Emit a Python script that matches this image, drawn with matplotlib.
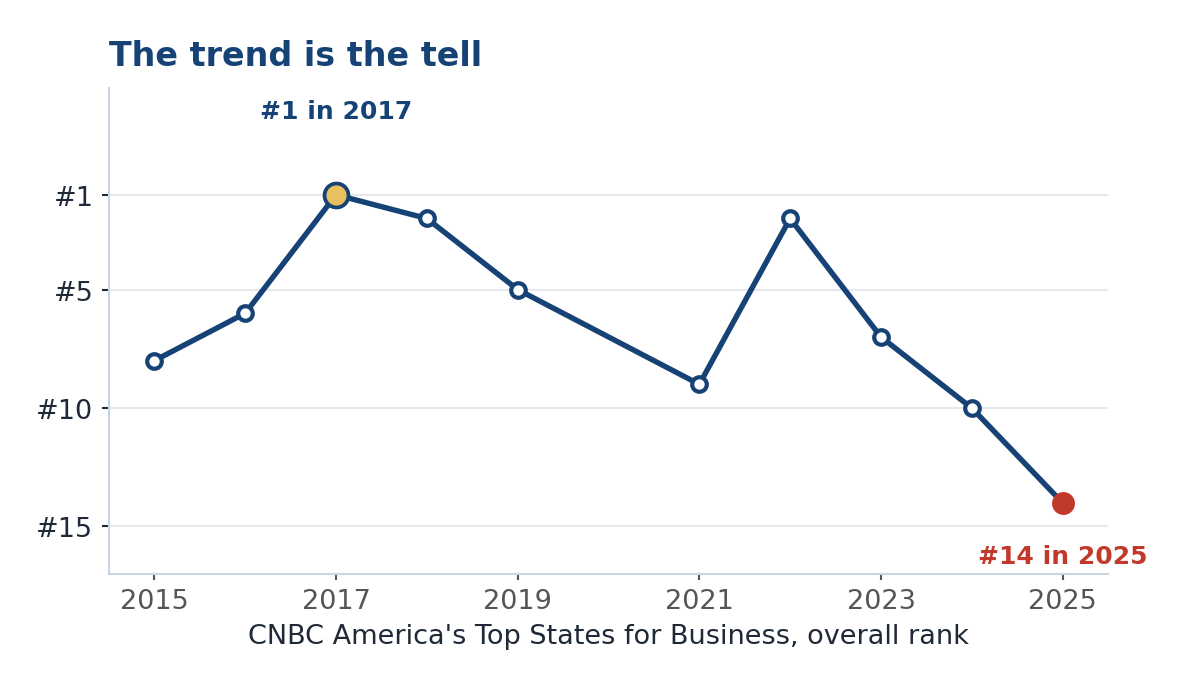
import matplotlib.pyplot as plt

years = [2015, 2016, 2017, 2018, 2019, 2021, 2022, 2023, 2024, 2025]
ranks = [8, 6, 1, 2, 5, 9, 2, 7, 10, 14]
best_year, best_rank = 2017, 1
last_year, last_rank = 2025, 14
x_ticks = [2015, 2017, 2019, 2021, 2023, 2025]
y_ticks = [1, 5, 10, 15]

NAVY = "#174275"
RED = "#c0392b"
GOLD = "#e8c060"
INK = "#1f2937"
SPINE = "#cbd5e1"

plt.rcParams["font.family"] = ["DejaVu Sans"]

fig = plt.figure(figsize=(7.9, 4.5733), dpi=150)
ax = fig.add_axes([0.092, 0.162, 0.843, 0.708])

ax.plot(years, ranks, color=NAVY, linewidth=2.6, marker="o", markersize=7,
        markerfacecolor="white", markeredgecolor=NAVY, markeredgewidth=2, zorder=3)
ax.plot([best_year], [best_rank], marker="o", markersize=11.5, markerfacecolor=GOLD,
        markeredgecolor=NAVY, markeredgewidth=1.8, zorder=4)
ax.plot([last_year], [last_rank], marker="o", markersize=11, markerfacecolor=RED,
        markeredgewidth=0, zorder=4)

ax.annotate(f"#{best_rank} in {best_year}", xy=(best_year, best_rank), xytext=(0, 40),
            textcoords="offset points", ha="center", va="center", fontsize=12,
            fontweight="bold", color=NAVY)
ax.annotate(f"#{last_rank} in {last_year}", xy=(last_year, last_rank), xytext=(0, -25.5),
            textcoords="offset points", ha="center", va="center", fontsize=12,
            fontweight="bold", color=RED)

ax.set_xlim(2014.5, 2025.5)
ax.set_ylim(17, -3.5)
ax.set_xticks(x_ticks)
ax.set_yticks(y_ticks)
ax.set_yticklabels([f"#{r}" for r in y_ticks])
ax.tick_params(axis="x", labelsize=13, colors="#555555", length=3, width=1, pad=4)
ax.tick_params(axis="y", labelsize=13, colors=INK, length=3.5, width=1, pad=4)

ax.grid(axis="y", color="#e5e9ee", linewidth=1)
ax.set_axisbelow(True)
for side in ("top", "right"):
    ax.spines[side].set_visible(False)
for side in ("left", "bottom"):
    ax.spines[side].set_color(SPINE)
    ax.spines[side].set_linewidth(1)

ax.set_xlabel("CNBC America's Top States for Business, overall rank", fontsize=13,
              color=INK, labelpad=4)
ax.set_title("The trend is the tell", loc="left", fontsize=16, fontweight="bold",
             color=NAVY, pad=11)

fig.savefig("out.png", dpi=150)
